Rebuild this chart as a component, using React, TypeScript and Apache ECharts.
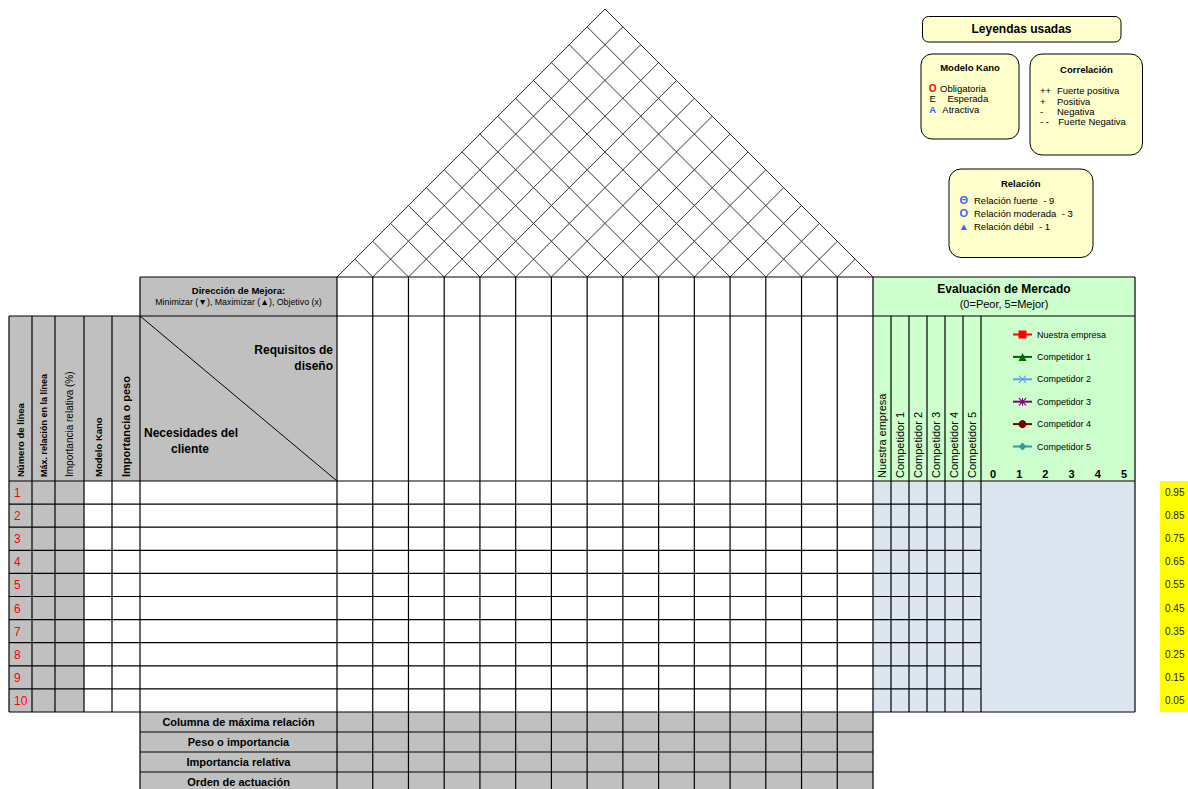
import React, { useEffect, useRef } from "react";
import * as echarts from "echarts";

// ---------- data ----------
const rowNumbers = ["1", "2", "3", "4", "5", "6", "7", "8", "9", "10"];
const leftHeaders = [
  "Número de línea",
  "Máx. relación en la línea",
  "Importancia relativa (%)",
  "Modelo Kano",
  "Importancia o peso",
];
const bottomLabels = [
  "Columna de máxima relación",
  "Peso o importancia",
  "Importancia relativa",
  "Orden de actuación",
];
const evalColumns = [
  "Nuestra empresa",
  "Competidor 1",
  "Competidor 2",
  "Competidor 3",
  "Competidor 4",
  "Competidor 5",
];
const scaleTicks = [0, 1, 2, 3, 4, 5];
const yellowValues = ["0.95", "0.85", "0.75", "0.65", "0.55", "0.45", "0.35", "0.25", "0.15", "0.05"];
const designColumnCount = 15;
const kanoLegend = [
  { sym: "O", label: "Obligatoria" },
  { sym: "E", label: "Esperada" },
  { sym: "A", label: "Atractiva" },
];
const correlationLegend = [
  { sym: "++", label: "Fuerte positiva" },
  { sym: "+", label: "Positiva" },
  { sym: "-", label: "Negativa" },
  { sym: "- -", label: "Fuerte Negativa" },
];
const relationLegend = [
  { sym: "Θ", label: "Relación fuerte  - 9" },
  { sym: "O", label: "Relación moderada  - 3" },
  { sym: "▲", label: "Relación débil  - 1" },
];

// ---------- styles ----------
const FONT = '"Liberation Sans", Arial, "DejaVu Sans", sans-serif';
const fnt = (size: number, bold = false) => `${bold ? "bold " : ""}${size}px ${FONT}`;
const GRAY = "#c0c0c0";
const GREEN = "#ccffcc";
const BLUE = "#dce6f1";
const YELLOW = "#ffff00";
const PALE = "#ffffcc";
const SYMBLUE = "#3366ff";

const XSYM = "path://M0,1L1,0L5,4L9,0L10,1L6,5L10,9L9,10L5,6L1,10L0,9L4,5Z";
const STARSYM =
  "path://M0,1L1,0L4.4,3.4L4.4,0L5.6,0L5.6,3.4L9,0L10,1L6,5L10,9L9,10L5.6,6.6L5.6,10L4.4,10L4.4,6.6L1,10L0,9L4,5Z";
const seriesStyles = [
  { color: "#ff0000", symbol: "rect" },
  { color: "#006600", symbol: "triangle" },
  { color: "#6699ff", symbol: XSYM },
  { color: "#800080", symbol: STARSYM },
  { color: "#800000", symbol: "circle" },
  { color: "#339999", symbol: "diamond" },
];

function txt(
  x: number,
  y: number,
  text: string,
  font: string,
  fill = "#000",
  align = "left",
  vAlign = "middle",
  rotation = 0
) {
  return {
    type: "text",
    x,
    y,
    rotation,
    z: 3,
    style: {
      text,
      font,
      fill,
      textAlign: align,
      align,
      textVerticalAlign: vAlign,
      verticalAlign: vAlign,
    },
  };
}
function ln(x1: number, y1: number, x2: number, y2: number, stroke = "#000", w = 1) {
  return { type: "line", z: 2, shape: { x1, y1, x2, y2 }, style: { stroke, lineWidth: w } };
}
function rc(x: number, y: number, w: number, h: number, fill: string, stroke?: string, r = 0, lw = 0) {
  return {
    type: "rect",
    z: 1,
    shape: { x, y, width: w, height: h, r },
    style: { fill, stroke: stroke || "none", lineWidth: lw },
  };
}

function buildGraphics() {
  const els: any[] = [];
  const baseY = 277;
  const dxL = 337;
  const dxR = 873;
  const colW = (dxR - dxL) / designColumnCount;
  const dX = Array.from({ length: designColumnCount + 1 }, (_, i) => dxL + i * colW);
  const leftX = [9, 32, 55, 84, 112, 140];
  const evalX = [873, 891, 909, 927, 945, 963, 981];
  const evalR = 1135;
  const rowTop = 481;
  const rowH = 23.1;
  const rowBottom = rowTop + rowH * rowNumbers.length;
  const botH = 20;

  // fills
  els.push(rc(140, 277, 197, 39, GRAY));
  els.push(rc(9, 316, 328, 165, GRAY));
  els.push(rc(9, rowTop, 75, rowBottom - rowTop, GRAY));
  els.push(rc(140, rowBottom, dxR - 140, botH * bottomLabels.length, GRAY));
  els.push(rc(873, 277, evalR - 873, rowTop - 277, GREEN));
  els.push(rc(873, rowTop, evalR - 873, rowBottom - rowTop, BLUE));
  els.push(rc(1160, rowTop, 28, rowBottom - rowTop, YELLOW));

  // roof
  const roofC = "#333";
  dX.forEach((x, i) => {
    if (i < designColumnCount) els.push(ln(x, baseY, (x + dxR) / 2, baseY - (dxR - x) / 2, roofC, 1));
    if (i > 0) els.push(ln(x, baseY, (x + dxL) / 2, baseY - (x - dxL) / 2, roofC, 1));
  });

  // horizontal lines
  const LW = 1.2;
  els.push(ln(140, 277, evalR, 277, "#000", LW));
  els.push(ln(9, 316, evalR, 316, "#000", LW));
  els.push(ln(9, rowTop, evalR, rowTop, "#000", LW));
  for (let k = 1; k < rowNumbers.length; k++) {
    const y = rowTop + k * rowH;
    els.push(ln(9, y, 981, y, "#000", LW));
  }
  els.push(ln(9, rowBottom, evalR, rowBottom, "#000", LW));
  for (let k = 1; k < bottomLabels.length; k++) {
    const y = rowBottom + k * botH;
    els.push(ln(140, y, dxR, y, "#000", LW));
  }

  // vertical lines
  leftX.slice(0, 5).forEach((x) => els.push(ln(x, 316, x, rowBottom, "#000", LW)));
  els.push(ln(140, 277, 140, 792, "#000", LW));
  dX.forEach((x) => els.push(ln(x, 277, x, 792, "#000", LW)));
  evalX.slice(1).forEach((x) => els.push(ln(x, 316, x, rowBottom, "#000", LW)));
  els.push(ln(evalR, 277, evalR, rowBottom, "#000", LW));
  // diagonal
  els.push(ln(140, 316, 337, 481, "#000", 1));

  // texts: direction
  els.push(txt(238.5, 290, "Dirección de Mejora:", fnt(9.5, true), "#000", "center"));
  els.push(txt(238.5, 302, "Minimizar (▼), Maximizar (▲), Objetivo (x)", fnt(8.8), "#000", "center"));
  els.push(txt(333, 350, "Requisitos de", fnt(12, true), "#000", "right"));
  els.push(txt(333, 366, "diseño", fnt(12, true), "#000", "right"));
  els.push(txt(144, 433, "Necesidades del", fnt(12, true), "#000", "left"));
  els.push(txt(190, 449, "cliente", fnt(12, true), "#000", "center"));

  // left rotated headers
  const lhFonts = [fnt(9.5, true), fnt(9, true), fnt(10), fnt(9.5, true), fnt(11, true)];
  const lhX = [20, 43.5, 69.5, 98, 126];
  leftHeaders.forEach((t, i) =>
    els.push(txt(lhX[i], 477, t, lhFonts[i], "#000", "left", "middle", Math.PI / 2))
  );

  // row numbers
  rowNumbers.forEach((t, i) =>
    els.push(txt(14, rowTop + rowH * (i + 0.5) + 0.5, t, fnt(12), "#ff0000", "left"))
  );

  // bottom labels
  bottomLabels.forEach((t, i) =>
    els.push(txt(238.5, rowBottom + botH * (i + 0.5), t, fnt(11, true), "#000", "center"))
  );

  // evaluation header
  els.push(txt(1004, 289, "Evaluación de Mercado", fnt(12, true), "#000", "center"));
  els.push(txt(1004, 304, "(0=Peor, 5=Mejor)", fnt(11), "#000", "center"));
  evalColumns.forEach((t, i) =>
    els.push(txt((evalX[i] + evalX[i + 1]) / 2, 478, t, fnt(11), "#000", "left", "middle", Math.PI / 2))
  );

  // legend boxes
  els.push(rc(922.5, 16.5, 198.5, 25.5, PALE, "#000", 6, 1));
  els.push(txt(1021.5, 28.5, "Leyendas usadas", fnt(12, true), "#000", "center"));

  els.push(rc(921, 54, 98, 85, PALE, "#000", 11, 1));
  els.push(txt(970, 67.5, "Modelo Kano", fnt(9.5, true), "#000", "center"));
  const kanoColors = ["#ff0000", "#000", SYMBLUE];
  const kanoTextX = [940, 947.5, 942.3];
  kanoLegend.forEach((k, i) => {
    const y = 88 + i * 10.9;
    els.push(txt(932.7, y, k.sym, fnt(i === 0 ? 10 : 9.5, i !== 1), kanoColors[i], "center"));
    els.push(txt(kanoTextX[i], y, k.label, fnt(9.5), "#000", "left"));
  });

  els.push(rc(1030, 54, 112.5, 101, PALE, "#000", 12, 1));
  els.push(txt(1086.5, 69, "Correlación", fnt(9.5, true), "#000", "center"));
  correlationLegend.forEach((c, i) => {
    const y = 90.7 + i * 10.4;
    els.push(txt(1040, y, c.sym, fnt(9.5), "#000", "left"));
    els.push(txt(i === 3 ? 1058.3 : 1057, y, c.label, fnt(9.5), "#000", "left"));
  });

  els.push(rc(949, 169, 144, 88.5, PALE, "#000", 12, 1));
  els.push(txt(1020.7, 183, "Relación", fnt(9.5, true), "#000", "center"));
  relationLegend.forEach((r, i) => {
    const y = 200 + i * 13.4;
    els.push(txt(963.7, y, r.sym, fnt(i === 2 ? 10 : 11, true), SYMBLUE, "center"));
    els.push(txt(974, y, r.label, fnt(9.5), "#000", "left"));
  });

  return els;
}

export default function App() {
  const ref = useRef<HTMLDivElement>(null);
  useEffect(() => {
    if (!ref.current) return;
    const chart = echarts.init(ref.current, undefined, { renderer: "svg" });
    chart.setOption({
      animation: false,
      backgroundColor: "#fff",
      grid: { left: 993, right: 64, top: 481, bottom: 77, containLabel: false },
      xAxis: {
        type: "value",
        position: "top",
        min: 0,
        max: 5,
        interval: 1,
        z: 10,
        axisLine: { show: false },
        axisTick: { show: false },
        splitLine: { show: false },
        axisLabel: {
          margin: 2,
          fontSize: 11,
          fontWeight: "bold",
          color: "#000",
          fontFamily: FONT,
          formatter: (v: number) => (scaleTicks.includes(v) ? String(v) : ""),
        },
      },
      yAxis: {
        type: "category",
        data: yellowValues,
        inverse: true,
        position: "right",
        offset: 36,
        z: 10,
        axisLine: { show: false },
        axisTick: { show: false },
        splitLine: { show: false },
        axisLabel: { margin: 5, fontSize: 10, color: "#222", fontFamily: FONT },
      },
      legend: {
        data: evalColumns,
        orient: "vertical",
        left: 1012,
        top: 329,
        padding: 0,
        itemWidth: 19,
        itemHeight: 10,
        itemGap: 11.4,
        textStyle: { fontSize: 9, color: "#000", fontFamily: FONT, lineHeight: 11 },
        z: 10,
      },
      series: evalColumns.map((name, i) => ({
        type: "line",
        name,
        data: [],
        symbol: seriesStyles[i].symbol,
        symbolSize: 5,
        itemStyle: { color: seriesStyles[i].color },
        lineStyle: { color: seriesStyles[i].color, width: 1 },
      })),
      graphic: { elements: buildGraphics() },
    });
    return () => chart.dispose();
  }, []);
  return (
    <div
      ref={ref}
      style={{ position: "fixed", left: 0, top: 0, width: 1188, height: 789, background: "#fff" }}
    />
  );
}
